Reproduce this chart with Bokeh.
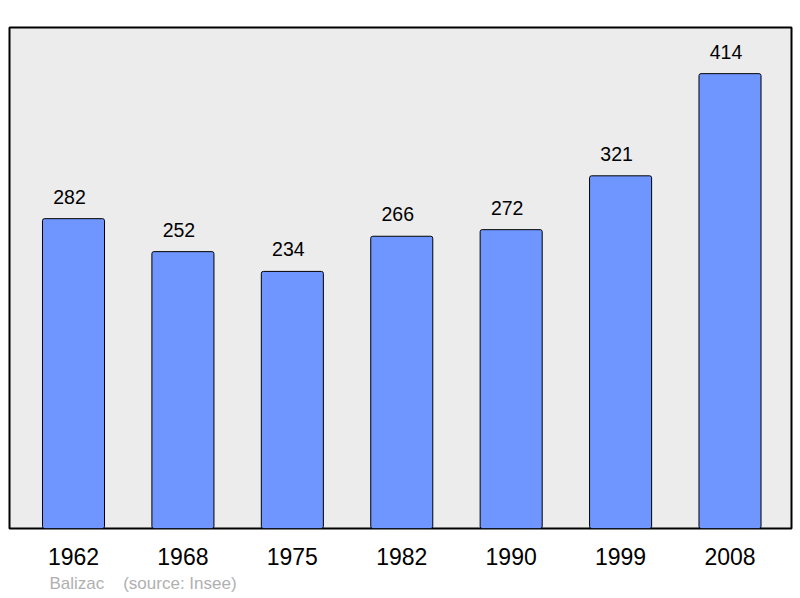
from bokeh.plotting import figure
from bokeh.models import ColumnDataSource, FixedTicker, Title
from bokeh.core.properties import value
from bokeh.embed import file_html
from bokeh.resources import INLINE

years = ["1962", "1968", "1975", "1982", "1990", "1999", "2008"]
population = [282, 252, 234, 266, 272, 321, 414]
town = "Balizac"
source_note = "(source: Insee)"

xs = list(range(len(years)))
src = ColumnDataSource(dict(x=xs, top=population, lbl=[str(v) for v in population]))

p = figure(width=800, height=598, output_backend="svg", toolbar_location=None,
           x_range=(-0.585, 6.562), y_range=(0, 456),
           min_border_left=9, min_border_right=9, min_border_top=27, min_border_bottom=70)
p.background_fill_color = "#ececec"
p.border_fill_color = "white"
p.outline_line_color = "black"
p.outline_line_width = 2
p.xgrid.visible = False
p.ygrid.visible = False
p.yaxis.visible = False

p.vbar(x="x", top="top", bottom=0, width=0.567, source=src,
       fill_color="#6f96ff", line_color="black", line_width=1, border_radius=2)
p.text(x="x", y="top", text="lbl", source=src, text_align="center",
       text_baseline="alphabetic", x_offset=-4, y_offset=-22, text_font_size="19.5px",
       text_font=value("Liberation Sans"), text_color="black")

ax = p.xaxis[0]
ax.ticker = FixedTicker(ticks=xs)
ax.major_label_overrides = {i: y for i, y in zip(xs, years)}
ax.axis_line_color = None
ax.major_tick_line_color = None
ax.minor_tick_line_color = None
ax.major_tick_out = 0
ax.major_tick_in = 0
ax.major_label_standoff = 19
ax.major_label_text_font_size = "23px"
ax.major_label_text_font = "Liberation Sans"
ax.major_label_text_color = "black"

footer = Title(text=town + "\u00a0" * 4 + source_note, align="left", offset=40,
               text_font_size="17px", text_font="Liberation Sans",
               text_color="#b0b0b0", text_font_style="normal", standoff=8)
p.add_layout(footer, "below")

open("out.html", "w").write(file_html(p, INLINE))
